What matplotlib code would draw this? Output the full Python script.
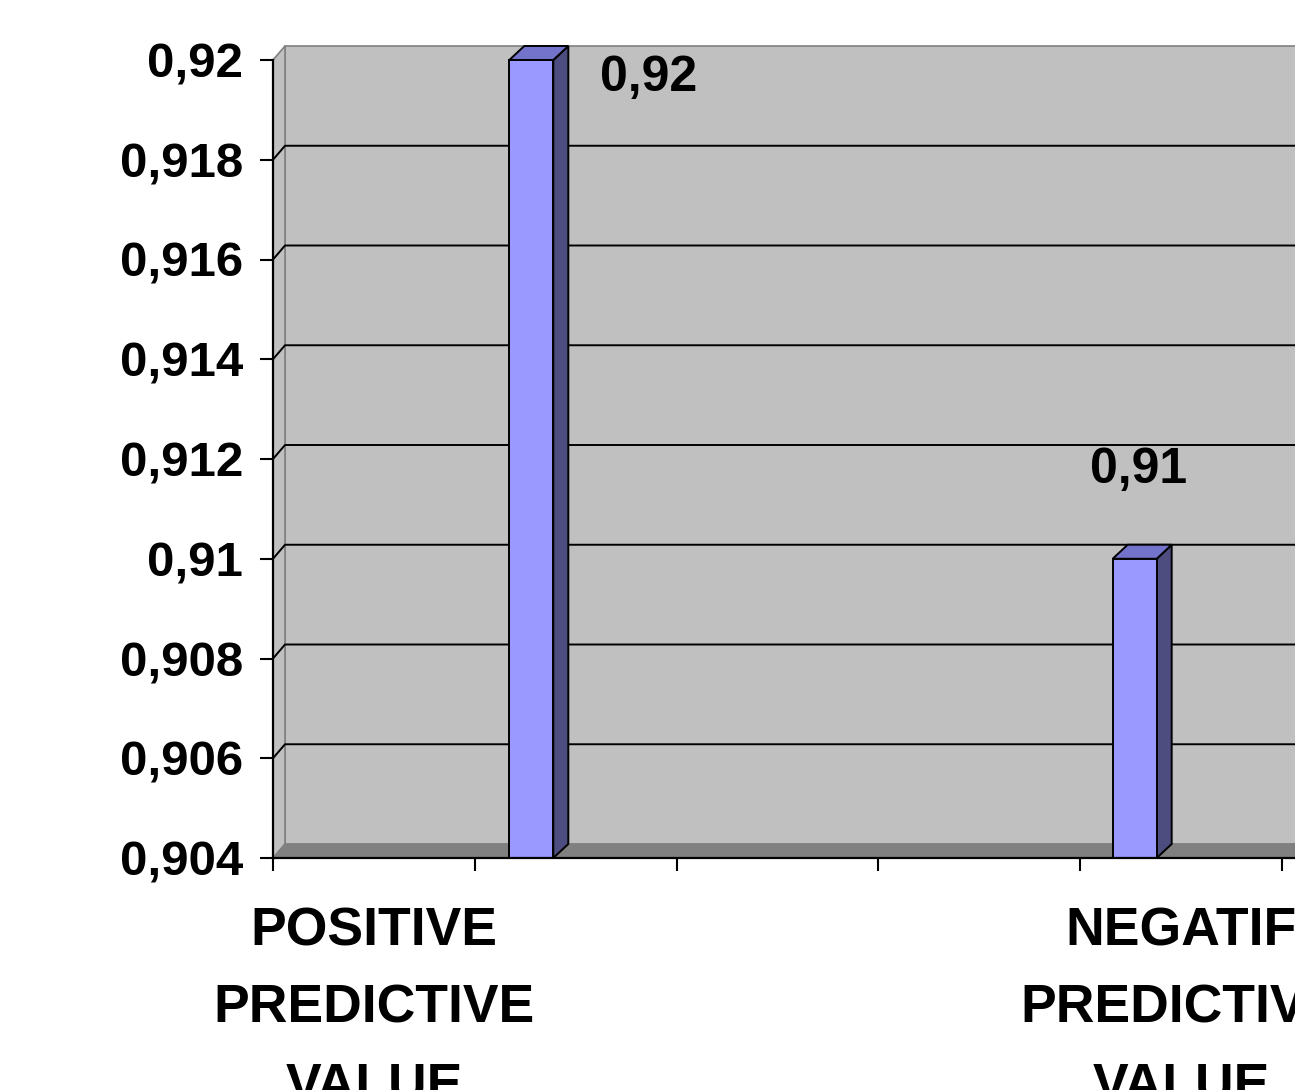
import matplotlib
matplotlib.use("Agg")
import matplotlib.pyplot as plt
from matplotlib.patches import Polygon, Rectangle
from matplotlib.lines import Line2D
from matplotlib.ticker import FuncFormatter

# ---- data -------------------------------------------------------------
category_labels = ["POSITIVE\nPREDICTIVE\nVALUE", "NEGATIF\nPREDICTIVE\nVALUE"]
category_pos = [0.5, 4.5]
values = [0.92, 0.91]
value_labels = ["0,92", "0,91"]
bar_pos = [1.28, 4.27]
y_ticks = [0.904, 0.906, 0.908, 0.910, 0.912, 0.914, 0.916, 0.918, 0.920]
x_slots = [0, 1, 2, 3, 4, 5, 6]

# ---- styling ----------------------------------------------------------
plt.rcParams['font.family'] = ['Liberation Sans', 'DejaVu Sans']
plt.rcParams['font.weight'] = 'bold'

W, H, DPI = 1295, 1090, 100
fig = plt.figure(figsize=(W / DPI, H / DPI), dpi=DPI)
fig.patch.set_facecolor('white')

PX_PER_SLOT = 201.8
ax_left, ax_bottom, ax_h = 273, 232, 798
ax = fig.add_axes([ax_left / W, ax_bottom / H, PX_PER_SLOT * 6 / W, ax_h / H])
ax.set_xlim(x_slots[0], x_slots[-1])
ax.set_ylim(y_ticks[0], y_ticks[-1])
ax.patch.set_visible(False)

ymin, ymax = y_ticks[0], y_ticks[-1]
xmax = x_slots[-1]
# pixel -> data conversion for the 3-D depth offsets
px_x = 1.0 / PX_PER_SLOT
px_y = (ymax - ymin) / ax_h
wall_dx, wall_dy = 12 * px_x, 14 * px_y
bar_dx, bar_dy = 15 * px_x, 14 * px_y
bar_w = 44 * px_x

WALL = '#C0C0C0'
WALL_EDGE = '#808080'
FLOOR = '#808080'
FRONT = '#9999FF'
SIDE = '#4D4D80'
TOP = '#7373CC'

# back wall
ax.add_patch(Rectangle((wall_dx, ymin + wall_dy), xmax, ymax - ymin,
                       facecolor=WALL, edgecolor=WALL_EDGE, lw=1.2,
                       clip_on=False, zorder=1))
# side wall
ax.add_patch(Polygon([(0, ymin), (0, ymax), (wall_dx, ymax + wall_dy),
                      (wall_dx, ymin + wall_dy)],
                     closed=True, facecolor=WALL, edgecolor=WALL_EDGE,
                     lw=1.2, clip_on=False, zorder=1))
# gridlines across side wall and back wall
for yv in y_ticks[1:-1]:
    ax.add_line(Line2D([0, wall_dx, xmax + wall_dx],
                       [yv, yv + wall_dy, yv + wall_dy],
                       color='black', lw=1.4, clip_on=False, zorder=2))
# floor
ax.add_patch(Polygon([(0, ymin), (xmax, ymin), (xmax + wall_dx, ymin + wall_dy),
                      (wall_dx, ymin + wall_dy)],
                     closed=True, facecolor=FLOOR, edgecolor=FLOOR,
                     lw=1.0, clip_on=False, zorder=3))

# 3-D columns
for xc, v in zip(bar_pos, values):
    x0, x1 = xc - bar_w / 2, xc + bar_w / 2
    ax.add_patch(Polygon([(x1, ymin), (x1, v), (x1 + bar_dx, v + bar_dy),
                          (x1 + bar_dx, ymin + bar_dy)],
                         closed=True, facecolor=SIDE, edgecolor='black',
                         lw=1.4, clip_on=False, zorder=4))
    ax.add_patch(Polygon([(x0, v), (x1, v), (x1 + bar_dx, v + bar_dy),
                          (x0 + bar_dx, v + bar_dy)],
                         closed=True, facecolor=TOP, edgecolor='black',
                         lw=1.4, clip_on=False, zorder=4))
    ax.add_patch(Rectangle((x0, ymin), bar_w, v - ymin,
                           facecolor=FRONT, edgecolor='black', lw=1.4,
                           clip_on=False, zorder=5))

# value labels
label_offsets = [(117, -18), (4, 89)]
for xc, v, txt, off in zip(bar_pos, values, value_labels, label_offsets):
    ax.annotate(txt, xy=(xc, v), xytext=off, textcoords='offset pixels',
                ha='center', va='center', fontsize=36, fontweight='bold',
                color='black', zorder=6, annotation_clip=False)

# axes lines and ticks
for side in ('top', 'right'):
    ax.spines[side].set_visible(False)
for side in ('left', 'bottom'):
    ax.spines[side].set_color('black')
    ax.spines[side].set_linewidth(1.6)
    ax.spines[side].set_zorder(7)

ax.set_yticks(y_ticks)
ax.yaxis.set_major_formatter(FuncFormatter(lambda v, p: ('%g' % round(v, 3)).replace('.', ',')))
ax.set_xticks(x_slots)
ax.set_xticklabels([])
ax.set_xticks(category_pos, labels=category_labels, minor=True)

ax.tick_params(axis='both', which='major', direction='out', length=9.4,
               width=1.5, color='black')
ax.tick_params(axis='y', which='major', labelsize=35.5, pad=12)
ax.tick_params(axis='x', which='minor', length=0, pad=35, labelsize=38.5)
for t in ax.get_yticklabels():
    t.set_fontweight('bold')
for t in ax.get_xticklabels(minor=True):
    t.set_fontweight('bold')
    t.set_linespacing(1.7)

fig.savefig('out.png', dpi=DPI, facecolor='white')
